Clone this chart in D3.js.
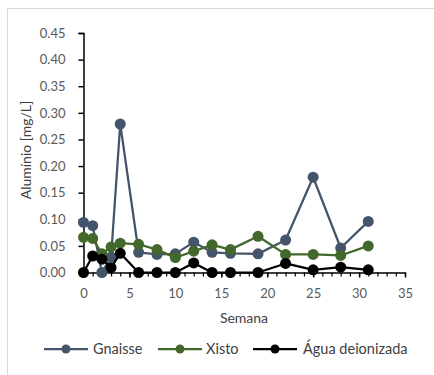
<!DOCTYPE html>
<html>
<head>
<meta charset="utf-8">
<script src="https://cdn.jsdelivr.net/npm/d3@7"></script>
<style>
  html, body { margin: 0; padding: 0; background: #fff; }
  svg { display: block; font-family: Lato, "Open Sans", sans-serif; }
</style>
</head>
<body>
<svg id="chart" width="434" height="375"></svg>
<script>
// Aluminium concentration per week for each leaching medium
const weeks = [0, 1, 2, 3, 4, 6, 8, 10, 12, 14, 16, 19, 22, 25, 28, 31];
const gnaisse = [0.094, 0.088, 0.000, 0.029, 0.279, 0.038, 0.034, 0.035, 0.057, 0.038, 0.036, 0.035, 0.061, 0.179, 0.046, 0.096];
const xisto   = [0.066, 0.064, 0.035, 0.048, 0.055, 0.053, 0.043, 0.028, 0.040, 0.052, 0.043, 0.068, 0.034, 0.034, 0.032, 0.050];
const agua    = [0.000, 0.031, 0.025, 0.009, 0.036, 0.000, 0.000, 0.000, 0.018, 0.000, 0.000, 0.000, 0.017, 0.005, 0.010, 0.005];

const seriesNames = ["Gnaisse", "Xisto", "Água deionizada"];
const seriesColors = ["#44546A", "#43682B", "#000000"];
const xTicks = [0, 5, 10, 15, 20, 25, 30, 35];
const yTicks = [0, 0.05, 0.10, 0.15, 0.20, 0.25, 0.30, 0.35, 0.40, 0.45];

const svg = d3.select("#chart");

// Chart frame
svg.append("line").attr("x1", 7.5).attr("x2", 7.5).attr("y1", 8).attr("y2", 375)
  .attr("stroke", "#D9D9D9").attr("stroke-width", 1);
svg.append("line").attr("x1", 7).attr("x2", 434).attr("y1", 8.5).attr("y2", 8.5)
  .attr("stroke", "#D9D9D9").attr("stroke-width", 1);

const x = d3.scaleLinear().domain([0, 35]).range([83.5, 405]);
const y = d3.scaleLinear().domain([0, 0.45]).range([272.5, 33]);

// Y axis
const yAxis = d3.axisLeft(y).tickValues(yTicks).tickFormat(d3.format(".2f")).tickSizeOuter(0).tickSize(5).tickPadding(13);
const gy = svg.append("g").attr("transform", `translate(${x(0)},0)`).call(yAxis);
gy.select(".domain").attr("stroke", "#000").attr("stroke-width", 1.5);
gy.selectAll(".tick line").attr("stroke", "#000").attr("stroke-width", 1.5);
gy.selectAll(".tick text").attr("fill", "#595959").style("font-size", "13px").style("font-family", "Lato, sans-serif");

// X axis: minor ticks every week, labelled major ticks every 5
const gxMinor = svg.append("g").attr("transform", `translate(0,${y(0)})`)
  .call(d3.axisBottom(x).tickValues(d3.range(0, 36, 1)).tickFormat("").tickSize(4).tickSizeOuter(0));
gxMinor.select(".domain").remove();
gxMinor.selectAll(".tick line").attr("stroke", "#000").attr("stroke-width", 1.2);

const gx = svg.append("g").attr("transform", `translate(0,${y(0)})`)
  .call(d3.axisBottom(x).tickValues(xTicks).tickSize(5).tickSizeOuter(0).tickPadding(11));
gx.select(".domain").attr("stroke", "#000").attr("stroke-width", 1.5);
gx.selectAll(".tick line").attr("stroke", "#000").attr("stroke-width", 1.5);
gx.selectAll(".tick text").attr("fill", "#595959").style("font-size", "13px").style("font-family", "Lato, sans-serif");

// Axis titles
svg.append("text").attr("x", 244).attr("y", 323).attr("text-anchor", "middle")
  .attr("fill", "#404040").style("font-size", "14px").text("Semana");
svg.append("text").attr("transform", "translate(31,150) rotate(-90)").attr("text-anchor", "middle")
  .attr("fill", "#404040").style("font-size", "14px").text("Alumínio [mg/L]");

// Series
const seriesData = [gnaisse, xisto, agua];
const line = d3.line().x(d => x(d[0])).y(d => y(d[1]));
seriesData.forEach((vals, i) => {
  const pts = weeks.map((w, j) => [w, vals[j]]);
  const g = svg.append("g");
  g.append("path").datum(pts).attr("d", line).attr("fill", "none")
    .attr("stroke", seriesColors[i]).attr("stroke-width", 2.25).attr("stroke-linejoin", "round");
  g.selectAll("circle").data(pts).join("circle")
    .attr("cx", d => x(d[0])).attr("cy", d => y(d[1])).attr("r", 5.5)
    .attr("fill", seriesColors[i]);
});

// Legend
const legendItems = [
  { x0: 44, tx: 93 },
  { x0: 158, tx: 206 },
  { x0: 253, tx: 303 }
];
const ly = 349;
legendItems.forEach((it, i) => {
  const g = svg.append("g");
  g.append("line").attr("x1", it.x0).attr("x2", it.x0 + 44).attr("y1", ly).attr("y2", ly)
    .attr("stroke", seriesColors[i]).attr("stroke-width", 2.25);
  g.append("circle").attr("cx", it.x0 + 22).attr("cy", ly).attr("r", 4.5).attr("fill", seriesColors[i]);
  g.append("text").attr("x", it.tx).attr("y", ly + 5).attr("fill", "#404040")
    .style("font-size", "14.5px").text(seriesNames[i]);
});
</script>
</body>
</html>
